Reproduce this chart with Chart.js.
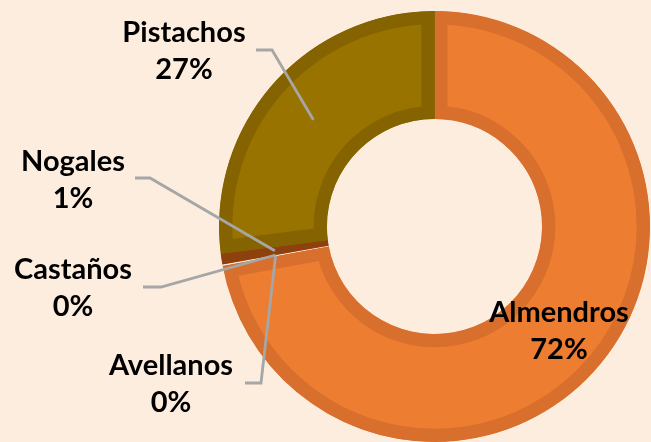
<!DOCTYPE html>
<html><head><meta charset="utf-8">
<script src="https://cdn.jsdelivr.net/npm/chart.js@4.4.1/dist/chart.umd.min.js"></script>
<style>html,body{margin:0;padding:0;background:#FDEDDE;overflow:hidden}canvas{display:block}</style>
</head><body>
<canvas id="c" width="651" height="442"></canvas>
<script>
const categories = ['Almendros', 'Avellanos', 'Castaños', 'Nogales', 'Pistachos'];
const values = [72.1, 0.05, 0.05, 0.8, 27.0];

const fillColors = ['#ED7D31', '#FCEBDD', '#FCEBDD', '#9E480E', '#997300'];
const edgeColors = ['#D86F2C', '#FCEBDD', '#FCEBDD', '#8F410D', '#846300'];
const labelLayout = [
  { cx: 559, cy: 313, leader: null },
  { cx: 171, cy: 366, leader: [[245, 383], [261, 383]] },
  { cx: 73, cy: 270, leader: [[143, 287], [161, 287]] },
  { cx: 73, cy: 162, leader: [[135, 178], [150, 178]] },
  { cx: 184, cy: 33, leader: [[256, 50], [272, 50]] }
];

const labelPlugin = {
  id: 'sliceLabels',
  afterDatasetsDraw(chart) {
    const ctx = chart.ctx;
    const meta = chart.getDatasetMeta(0);
    const total = values.reduce((a, b) => a + b, 0);
    ctx.save();
    meta.data.forEach((arc, i) => {
      const L = labelLayout[i];
      if (L.leader) {
        const p = arc.getProps(['startAngle', 'endAngle', 'innerRadius', 'outerRadius', 'x', 'y'], true);
        const a = (p.startAngle + p.endAngle) / 2;
        const r = (p.innerRadius + p.outerRadius) / 2;
        ctx.beginPath();
        ctx.moveTo(L.leader[0][0], L.leader[0][1]);
        ctx.lineTo(L.leader[1][0], L.leader[1][1]);
        ctx.lineTo(p.x + Math.cos(a) * r, p.y + Math.sin(a) * r);
        ctx.strokeStyle = '#A6A6A6';
        ctx.lineWidth = 2.8;
        ctx.lineJoin = 'miter';
        ctx.stroke();
      }
      ctx.font = 'bold 29px Lato';
      ctx.textAlign = 'center';
      ctx.textBaseline = 'middle';
      ctx.fillStyle = '#000000';
      ctx.fillText(categories[i], L.cx, L.cy);
      ctx.fillText(Math.round(values[i] / total * 100) + '%', L.cx, L.cy + 37);
    });
    ctx.restore();
  }
};

new Chart(document.getElementById('c'), {
  type: 'doughnut',
  data: {
    labels: categories,
    datasets: [{
      data: values,
      backgroundColor: fillColors,
      borderColor: edgeColors,
      borderWidth: 13,
      borderAlign: 'inner',
      borderJoinStyle: 'miter'
    }]
  },
  options: {
    responsive: false,
    devicePixelRatio: 1,
    animation: false,
    radius: 215.5,
    cutout: 107.5,
    layout: { padding: { left: 219, right: 1, top: 11, bottom: 0 } },
    plugins: { legend: { display: false }, tooltip: { enabled: false } }
  },
  plugins: [labelPlugin]
});
</script>
</body></html>
